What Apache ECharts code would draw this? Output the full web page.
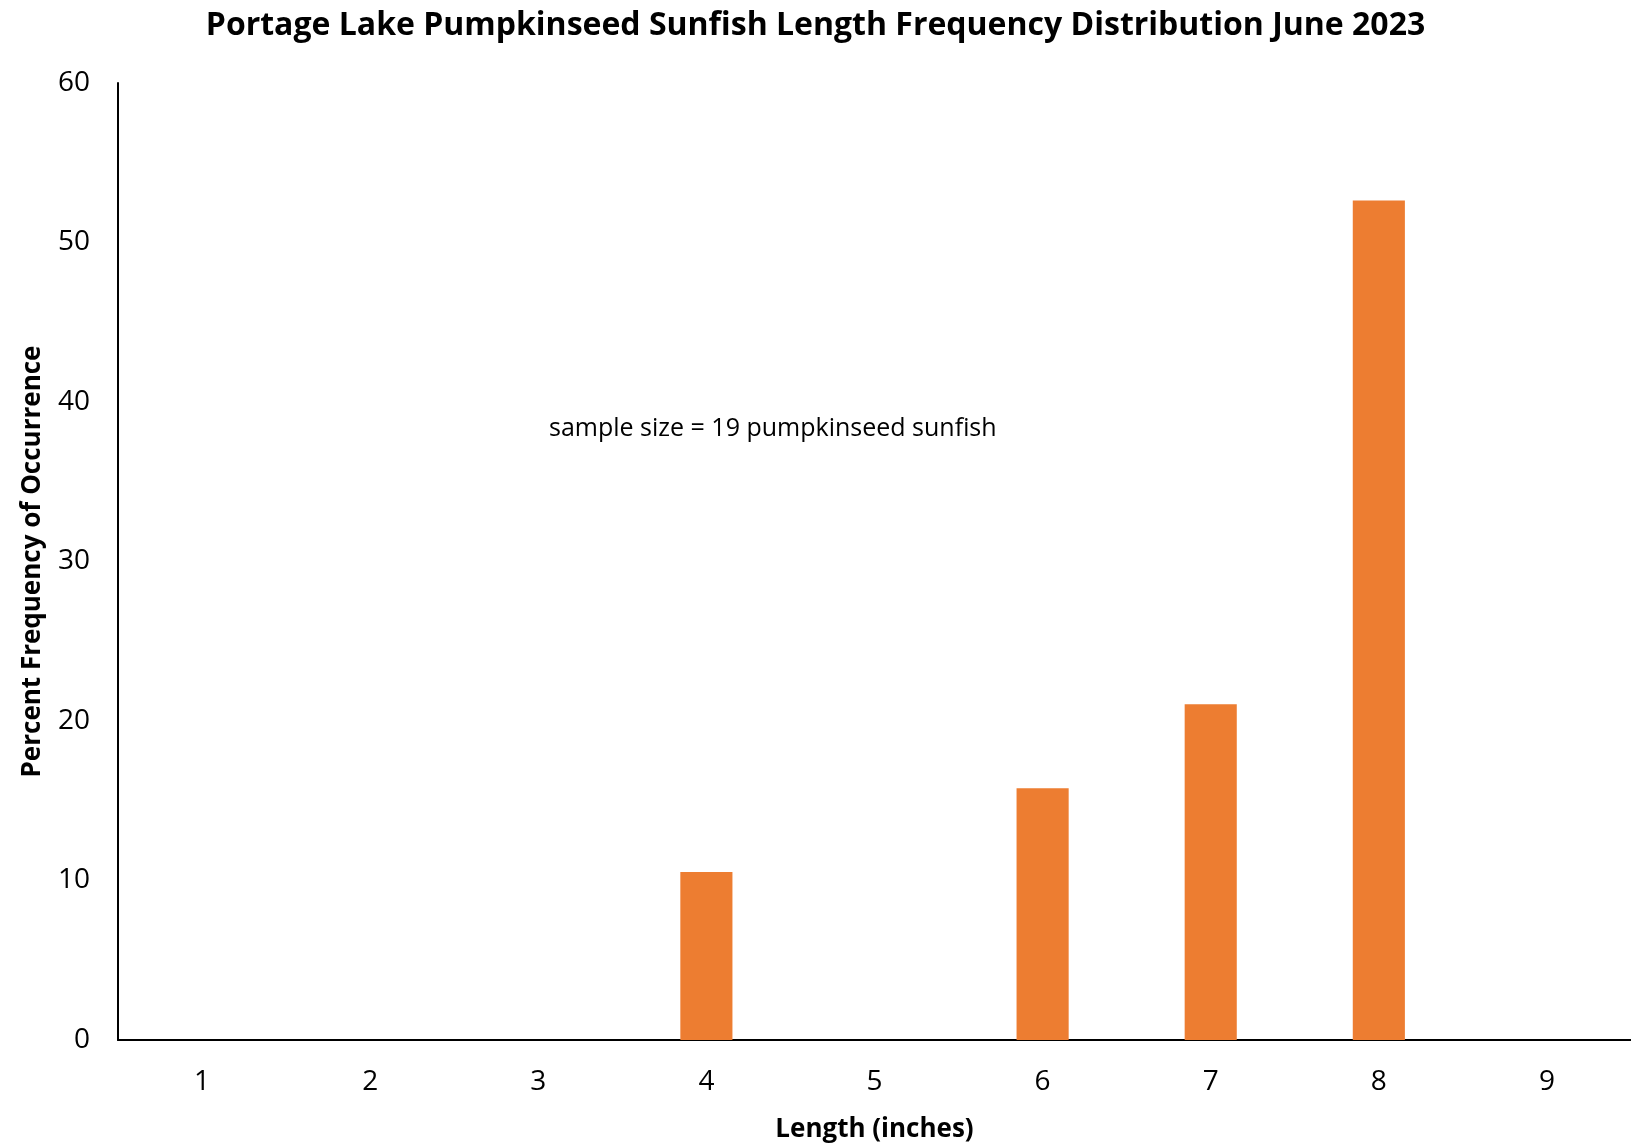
<!DOCTYPE html>
<html><head><meta charset="utf-8">
<script src="https://cdn.jsdelivr.net/npm/echarts@6/dist/echarts.min.js"></script>
<style>html,body{margin:0;padding:0;background:#fff}#c{width:1631px;height:1148px}</style>
</head><body><div id="c"></div>
<script>
const titleText = 'Portage Lake Pumpkinseed Sunfish Length Frequency Distribution June 2023';
const categories = ['1','2','3','4','5','6','7','8','9'];
const percentValues = [0, 0, 0, 10.53, 0, 15.79, 21.05, 52.63, 0];
const yTicks = [0, 10, 20, 30, 40, 50, 60];
const annotation = 'sample size = 19 pumpkinseed sunfish';
const F = 'Open Sans, Noto Sans, sans-serif';
const chart = echarts.init(document.getElementById('c'));
chart.setOption({
  animation: false,
  title: { text: titleText, left: 'center', top: 5,
    textStyle: { fontFamily: F, fontWeight: 'bold', fontSize: 32, color: '#000' } },
  grid: { left: 118, right: 0, top: 83, bottom: 106 },
  xAxis: { type: 'category', data: categories,
    axisLine: { lineStyle: { color: '#000', width: 2 } },
    axisTick: { show: false },
    axisLabel: { fontFamily: F, fontSize: 28, color: '#000', margin: 28 },
    name: 'Length (inches)', nameLocation: 'middle', nameGap: 77,
    nameTextStyle: { fontFamily: F, fontWeight: 'bold', fontSize: 26, color: '#000' } },
  yAxis: { type: 'value', min: yTicks[0], max: yTicks[yTicks.length-1], interval: 10,
    axisLine: { show: true, lineStyle: { color: '#000', width: 2 } },
    axisTick: { show: false }, splitLine: { show: false },
    axisLabel: { fontFamily: F, fontSize: 28, color: '#000', margin: 28 },
    name: 'Percent Frequency of Occurrence', nameLocation: 'middle', nameGap: 72,
    nameTextStyle: { fontFamily: F, fontWeight: 'bold', fontSize: 26, color: '#000' } },
  graphic: [{ type: 'text', left: 549, top: 416,
    style: { text: annotation, font: '25px ' + F, fill: '#000' } }],
  series: [{ type: 'bar', data: percentValues, barWidth: '31%',
    itemStyle: { color: '#ED7D31' } }]
});
</script></body></html>
